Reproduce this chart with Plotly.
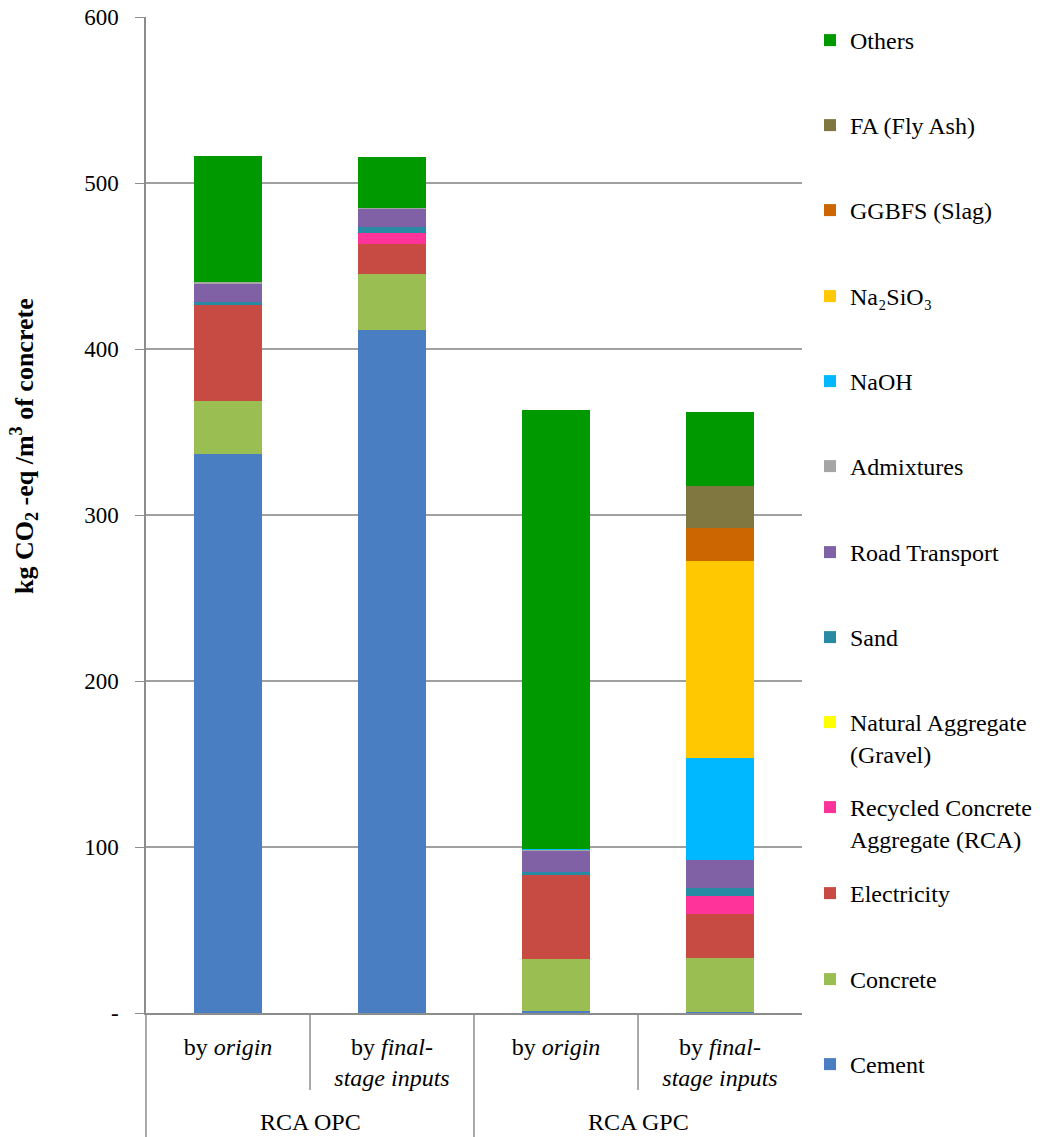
import plotly.graph_objects as go

# ---------------- data ----------------
bar_positions = [0, 1, 2, 3]
sub_labels = ["by <i>origin</i>", "by <i>final-</i><br><i>stage inputs</i>",
              "by <i>origin</i>", "by <i>final-</i><br><i>stage inputs</i>"]
group_labels = ["RCA OPC", "RCA GPC"]
group_centers = [0.5, 2.5]

# stacking order bottom -> top
series_names = ["Cement", "Concrete", "Electricity",
                "Recycled Concrete<br>Aggregate (RCA)",
                "Natural Aggregate<br>(Gravel)", "Sand", "Road Transport",
                "Admixtures", "NaOH", "Na₂SiO₃", "GGBFS (Slag)",
                "FA (Fly Ash)", "Others"]
cement = [337.0, 411.5, 1.4, 0.6]
concrete = [31.7, 33.7, 31.3, 32.5]
electricity = [58.0, 18.0, 50.5, 26.5]
rca = [0.0, 6.6, 0.0, 10.8]
natural_aggregate = [0.0, 0.0, 0.0, 0.0]
sand = [1.6, 3.6, 1.8, 5.2]
road_transport = [11.4, 11.4, 12.8, 16.5]
admixtures = [0.4, 0.3, 0.8, 0.0]
naoh = [0.0, 0.0, 0.2, 61.3]
na2sio3 = [0.0, 0.0, 0.0, 119.1]
ggbfs = [0.0, 0.0, 0.0, 19.4]
fly_ash = [0.0, 0.0, 0.0, 25.7]
others = [75.9, 30.3, 264.2, 44.5]
series_values = [cement, concrete, electricity, rca, natural_aggregate, sand,
                 road_transport, admixtures, naoh, na2sio3, ggbfs, fly_ash, others]
series_colors = ["#4A7EC2", "#9BBE53", "#C84B43", "#FF3399", "#FFFF00",
                 "#288BA3", "#8161A6", "#A5A5A5", "#00B8FF", "#FFC800",
                 "#CC6600", "#7F7640", "#009900"]

y_tickvals = [0, 100, 200, 300, 400, 500, 600]
y_ticktext = ["-", "100", "200", "300", "400", "500", "600"]
y_title = "<b>kg CO<sub>2</sub> -eq /m<sup>3</sup> of concrete</b>"

# legend vertical pixel positions (first line centre), bottom -> top
legend_pix = [1065, 980, 894, 808, 723, 638, 553, 467, 382, 297, 211, 126, 41]

# ---------------- layout geometry ----------------
W, H = 1054, 1137
L, R, T, B = 146, 252, 17, 124
ph = H - T - B
pw = W - L - R
FONT = "'Liberation Serif', 'Times New Roman', Times, serif"


def py(pix):
    return (H - B - pix) / ph


def px(pix):
    return (pix - L) / pw


fig = go.Figure()
legend_layouts = {}
for i, (name, vals, col) in enumerate(zip(series_names, series_values, series_colors)):
    lg = "legend" if i == 0 else f"legend{i + 1}"
    fig.add_trace(go.Bar(
        x=bar_positions, y=vals, name=name, marker=dict(color=col, line=dict(width=0)),
        width=0.415, legend=lg, hoverinfo="name+y"))
    legend_layouts[lg] = dict(
        x=px(810), xanchor="left",
        y=py(legend_pix[i] - 23), yanchor="top", valign="top",
        font=dict(family=FONT, size=24, color="black"),
        bgcolor="rgba(0,0,0,0)", borderwidth=0, itemwidth=30)

fig.update_layout(
    barmode="stack",
    width=W, height=H,
    margin=dict(l=L, r=R, t=T, b=B, pad=0),
    paper_bgcolor="white", plot_bgcolor="white",
    font=dict(family=FONT, size=24, color="black"),
    showlegend=True,
    **legend_layouts,
)

fig.update_xaxes(
    range=[-0.5, 3.5], tickmode="array", tickvals=bar_positions, ticktext=sub_labels,
    showgrid=False, zeroline=False, showline=True, linecolor="#8C8C8C", linewidth=1.5,
    ticks="", ticklabelstandoff=11, tickfont=dict(family=FONT, size=24, color="black"),
    fixedrange=True,
)
fig.update_yaxes(
    range=[0, 600], tickmode="array", tickvals=y_tickvals, ticktext=y_ticktext,
    showgrid=True, gridcolor="#A0A0A0", gridwidth=1.5, zeroline=False,
    showline=True, linecolor="#8C8C8C", linewidth=1.5,
    ticks="outside", ticklen=9, tickcolor="#8C8C8C", tickwidth=1.2,
    ticklabelstandoff=12,
    tickfont=dict(family=FONT, size=23, color="black"),
    automargin=False, fixedrange=True,
)

# y-axis title as rotated annotation
fig.add_annotation(text=y_title, textangle=-90, xref="paper", x=px(24), xanchor="center",
                   yref="paper", y=py(446), yanchor="middle", showarrow=False,
                   font=dict(family=FONT, size=26, color="black"))

# dividers below the axis
bottom = -B / ph
sub_div_end = py(1090)
fig.add_shape(type="line", xref="paper", yref="paper", x0=0, x1=0, y0=0, y1=bottom,
              line=dict(color="#8C8C8C", width=1.5))
for xv, yend in [(0.5, sub_div_end), (1.5, bottom), (2.5, sub_div_end)]:
    fig.add_shape(type="line", xref="x", yref="paper", x0=xv, x1=xv, y0=0, y1=yend,
                  line=dict(color="#8C8C8C", width=1.5))

for lab, xc in zip(group_labels, group_centers):
    fig.add_annotation(text=lab, x=xc, xref="x", y=py(1122), yref="paper",
                       yanchor="middle", showarrow=False,
                       font=dict(family=FONT, size=24, color="black"))

fig.write_html("out.html", config={"displayModeBar": False},
               post_script="document.body.style.margin='0';")
